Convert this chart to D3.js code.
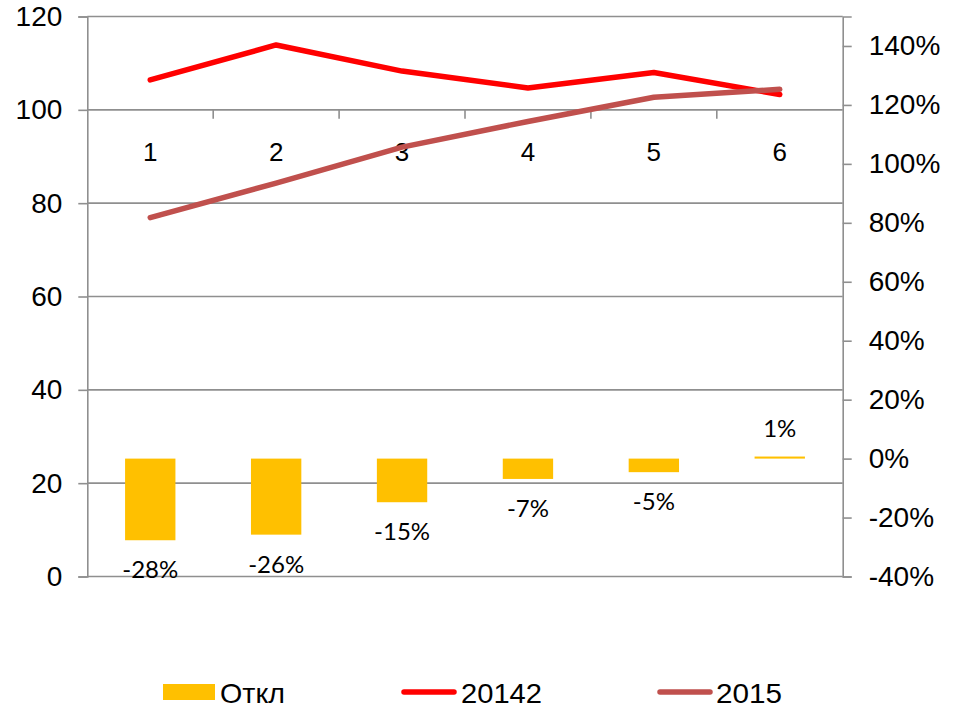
<!DOCTYPE html>
<html>
<head>
<meta charset="utf-8">
<script src="https://cdn.jsdelivr.net/npm/d3@7"></script>
<style>
  body { margin: 0; background: #fff; }
  svg { display: block; }
</style>
</head>
<body>
<svg width="957" height="707"></svg>
<script>
// chart data
const categories = ["1", "2", "3", "4", "5", "6"];
const series20142 = [106.4, 113.9, 108.3, 104.7, 108.0, 103.3];
const series2015 = [76.9, 84.3, 92.0, 97.5, 102.7, 104.4];
const deviation = [-0.277, -0.258, -0.148, -0.069, -0.046, 0.007];
const deviationLabels = ["-28%", "-26%", "-15%", "-7%", "-5%", "1%"];
const leftTicks = [0, 20, 40, 60, 80, 100, 120];
const rightTicks = [-0.4, -0.2, 0, 0.2, 0.4, 0.6, 0.8, 1.0, 1.2, 1.4];
const legendNames = ["Откл", "20142", "2015"];

const barColor = "#ffc000";
const redColor = "#ff0000";
const brownColor = "#c0504d";
const gridColor = "#8f8f8f";
const axisFont = "'Liberation Sans', Arial, sans-serif";
const labelFont = "Lato, 'Open Sans', sans-serif";

// svg setup
const svg = d3.select("svg");
const plotLeft = 87.3, plotRight = 842.7, plotTop = 16.5, plotBottom = 576.5;

const x = d3.scaleBand().domain(categories).range([plotLeft, plotRight]);
const yL = d3.scaleLinear().domain([0, 120]).range([plotBottom, plotTop]);
const yR = d3.scaleLinear().domain([-0.4, 1.5]).range([plotBottom, plotTop]);

// horizontal gridlines
svg.append("g")
    .selectAll("line")
    .data(leftTicks)
    .join("line")
    .attr("x1", plotLeft)
    .attr("x2", plotRight)
    .attr("y1", d => yL(d))
    .attr("y2", d => yL(d))
    .attr("stroke", gridColor)
    .attr("stroke-width", 1.6);

// category axis crosses at 100, ticks between categories
const catAxis = svg.append("g")
    .attr("transform", `translate(0,${yL(100)})`);
catAxis.selectAll("line")
    .data(categories.slice(1))
    .join("line")
    .attr("x1", d => x(d))
    .attr("x2", d => x(d))
    .attr("y1", 0)
    .attr("y2", 9)
    .attr("stroke", gridColor)
    .attr("stroke-width", 1.6);
catAxis.selectAll("text")
    .data(categories)
    .join("text")
    .attr("x", d => x(d) + x.bandwidth() / 2)
    .attr("y", 51.5)
    .attr("text-anchor", "middle")
    .attr("font-family", axisFont)
    .attr("font-size", 26)
    .attr("fill", "#000")
    .text(d => d);

// left axis
const leftAxis = svg.append("g")
    .attr("transform", `translate(${plotLeft},0)`)
    .call(d3.axisLeft(yL).tickValues(leftTicks).tickSize(9).tickPadding(16));
// right axis
const rightAxis = svg.append("g")
    .attr("transform", `translate(${plotRight},0)`)
    .call(d3.axisRight(yR).tickValues(rightTicks).tickSize(9).tickPadding(17)
        .tickFormat(d => Math.round(d * 100) + "%"));

[leftAxis, rightAxis].forEach(a => {
    a.select(".domain").attr("stroke", gridColor).attr("stroke-width", 1.6);
    a.selectAll(".tick line").attr("stroke", gridColor).attr("stroke-width", 1.6);
    a.selectAll(".tick text")
        .attr("font-family", axisFont)
        .attr("font-size", 28)
        .attr("fill", "#000");
});

// bars on the secondary axis
const barW = x.bandwidth() * 0.4;
svg.append("g")
    .selectAll("rect")
    .data(deviation)
    .join("rect")
    .attr("x", (d, i) => x(categories[i]) + (x.bandwidth() - barW) / 2)
    .attr("y", d => yR(Math.max(0, d)))
    .attr("width", barW)
    .attr("height", d => Math.abs(yR(d) - yR(0)))
    .attr("fill", barColor);

svg.append("g")
    .selectAll("text")
    .data(deviation)
    .join("text")
    .attr("x", (d, i) => x(categories[i]) + x.bandwidth() / 2)
    .attr("y", d => d < 0 ? yR(d) + 38 : yR(d) - 19.5)
    .attr("text-anchor", "middle")
    .attr("font-family", labelFont)
    .attr("font-size", 24)
    .attr("fill", "#000")
    .text((d, i) => deviationLabels[i]);

// lines
const line = d3.line()
    .x((d, i) => x(categories[i]) + x.bandwidth() / 2)
    .y(d => yL(d));

svg.append("path")
    .datum(series20142)
    .attr("d", line)
    .attr("fill", "none")
    .attr("stroke", redColor)
    .attr("stroke-width", 5.5)
    .attr("stroke-linecap", "round")
    .attr("stroke-linejoin", "round");

svg.append("path")
    .datum(series2015)
    .attr("d", line)
    .attr("fill", "none")
    .attr("stroke", brownColor)
    .attr("stroke-width", 5.5)
    .attr("stroke-linecap", "round")
    .attr("stroke-linejoin", "round");

// legend
const legend = svg.append("g").attr("font-family", axisFont).attr("font-size", 28);
legend.append("rect")
    .attr("x", 163).attr("y", 684).attr("width", 52).attr("height", 16)
    .attr("fill", barColor);
legend.append("line")
    .attr("x1", 404).attr("x2", 454).attr("y1", 692).attr("y2", 692)
    .attr("stroke", redColor).attr("stroke-width", 5.5).attr("stroke-linecap", "round");
legend.append("line")
    .attr("x1", 660).attr("x2", 710).attr("y1", 692).attr("y2", 692)
    .attr("stroke", brownColor).attr("stroke-width", 5.5).attr("stroke-linecap", "round");
const legendX = [220, 461, 716];
const legendLen = [65, 81, 66];
legend.selectAll("text")
    .data(legendNames)
    .join("text")
    .attr("x", (d, i) => legendX[i])
    .attr("y", 702.5)
    .attr("textLength", (d, i) => legendLen[i])
    .attr("lengthAdjust", "spacingAndGlyphs")
    .text(d => d);
</script>
</body>
</html>
